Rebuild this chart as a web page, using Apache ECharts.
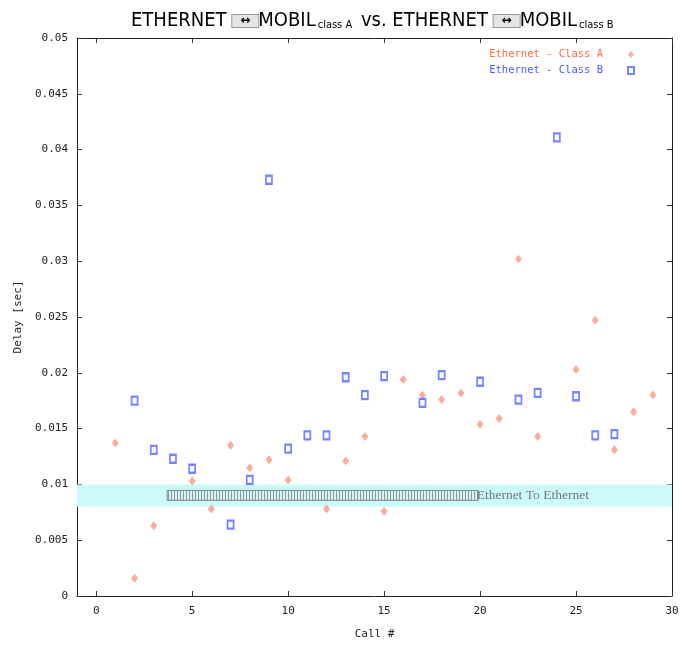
<!DOCTYPE html>
<html>
<head>
<meta charset="utf-8">
<script src="https://cdn.jsdelivr.net/npm/echarts@6/dist/echarts.min.js"></script>
<style>
html, body { margin: 0; padding: 0; background: #fff; }
#main { width: 690px; height: 645px; }
</style>
</head>
<body>
<div id="main"></div>
<script>
// data
var callA  = [1, 2, 3, 5, 6, 7, 8, 9, 10, 12, 13, 14, 15, 16, 17, 18, 19, 20, 21, 22, 23, 25, 26, 27, 28, 29];
var delayA = [0.0137, 0.0016, 0.0063, 0.0103, 0.0078, 0.0135, 0.0115, 0.0122, 0.0104, 0.0078, 0.0121, 0.0143, 0.0076,
              0.0194, 0.0180, 0.0176, 0.0182, 0.0154, 0.0159, 0.0302, 0.0143, 0.0203, 0.0247, 0.0131, 0.0165, 0.0180];
var callB  = [2, 3, 4, 5, 7, 8, 9, 10, 11, 12, 13, 14, 15, 17, 18, 20, 22, 23, 24, 25, 26, 27];
var delayB = [0.0175, 0.0131, 0.0123, 0.0114, 0.0064, 0.0104, 0.0373, 0.0132, 0.0144, 0.0144, 0.0196, 0.0180, 0.0197,
              0.0173, 0.0198, 0.0192, 0.0176, 0.0182, 0.0411, 0.0179, 0.0144, 0.0145];
var xTicks = [0, 5, 10, 15, 20, 25, 30];
var bandLow = 0.008, bandHigh = 0.01;
var hatch = [[3.7, 0.00857], [19.9, 0.00946]];
var bandText = 'Ethernet To Ethernet';

function pairs(xs, ys) {
	var out = [];
	for (var i = 0; i < xs.length; i++) out.push([xs[i], ys[i]]);
	return out;
}

// vertical hatch pattern
var pat = document.createElement('canvas');
pat.width = 3; pat.height = 10;
var pc = pat.getContext('2d');
pc.fillStyle = '#d8f4f4'; pc.fillRect(0, 0, 3, 10);
pc.fillStyle = '#8a9a9a'; pc.fillRect(0, 0, 1, 10);

var mono = 'DejaVu Sans Mono';
var narrow = 'Liberation Sans Narrow, DejaVu Sans Condensed';
var myChart = echarts.init(document.getElementById('main'));

var option = {
	backgroundColor: '#fff',
	animation: false,
	title: {
		left: 126, top: 6,
		text: '{t|ETHERNET }{a|↔}{t|MOBIL}{s|class A}{t| vs. ETHERNET }{a|↔}{t|MOBIL}{s|class B}',
		textStyle: {
			rich: {
				t: { fontFamily: narrow, fontWeight: 'normal', fontSize: 20, color: '#000' },
				a: { fontFamily: 'DejaVu Sans', fontWeight: 'bold', fontSize: 12, color: '#000', backgroundColor: '#e4e4e4', borderColor: '#999', borderWidth: 1, padding: [0, 8] },
				s: { fontFamily: narrow, fontWeight: 'normal', fontSize: 11, color: '#000', verticalAlign: 'bottom', padding: [8, 3, 0, 2] }
			}
		}
	},
	legend: {
		right: 50, top: 44, orient: 'vertical', align: 'right', itemGap: 5,
		itemWidth: 6, itemHeight: 7,
		textStyle: { fontFamily: mono, fontSize: 10.5, padding: [0, 20, 0, 0] },
		data: [
			{ name: 'Ethernet - Class A', textStyle: { color: '#ff6a4a' } },
			{ name: 'Ethernet - Class B', textStyle: { color: '#4a5aff' } }
		]
	},
	grid: { left: 77, right: 18, top: 38, bottom: 47 },
	xAxis: [{
		type: 'value', min: -1, max: 30,
		name: 'Call #', nameLocation: 'middle', nameGap: 33,
		nameTextStyle: { fontFamily: mono, fontSize: 11, color: '#222' },
		axisLine: { onZero: false, lineStyle: { color: '#222' } },
		axisTick: { inside: true, length: 5, customValues: xTicks, lineStyle: { color: '#333' } },
		axisLabel: { customValues: xTicks, fontFamily: mono, fontSize: 11, color: '#222', margin: 10 },
		splitLine: { show: false }
	}, {
		type: 'value', min: -1, max: 30, position: 'top',
		axisLine: { onZero: false, lineStyle: { color: '#222' } },
		axisTick: { inside: true, length: 5, customValues: xTicks, lineStyle: { color: '#333' } },
		axisLabel: { show: false }, splitLine: { show: false }
	}],
	yAxis: [{
		type: 'value', min: 0, max: 0.05, interval: 0.005,
		name: 'Delay [sec]', nameLocation: 'middle', nameGap: 52,
		nameTextStyle: { fontFamily: mono, fontSize: 11, color: '#222' },
		axisLine: { show: true, onZero: false, lineStyle: { color: '#222' } },
		axisTick: { inside: true, length: 5, lineStyle: { color: '#333' } },
		axisLabel: { fontFamily: mono, fontSize: 11, color: '#222', margin: 9 },
		splitLine: { show: false }
	}, {
		type: 'value', min: 0, max: 0.05, interval: 0.005, position: 'right',
		axisLine: { show: true, onZero: false, lineStyle: { color: '#222' } },
		axisTick: { inside: true, length: 5, lineStyle: { color: '#333' } },
		axisLabel: { show: false }, splitLine: { show: false }
	}],
	series: [
		{
			name: 'Ethernet - Class A', type: 'scatter',
			symbol: 'diamond', symbolSize: [7, 9],
			itemStyle: { color: '#f7998a' },
			data: pairs(callA, delayA),
			z: 5,
			markArea: {
				silent: true,
				data: [
					[{ yAxis: bandLow, itemStyle: { color: '#ccfafa' } }, { yAxis: bandHigh }],
					[{
						coord: hatch[0],
						itemStyle: { color: { image: pat, repeat: 'repeat' }, borderColor: '#7a8a8a', borderWidth: 1 },
						label: {
							show: true, position: 'right', distance: -2,
							formatter: bandText,
							fontFamily: 'Liberation Serif', fontSize: 13.5, color: '#777'
						}
					}, { coord: hatch[1] }]
				]
			}
		},
		{
			name: 'Ethernet - Class B', type: 'scatter',
			symbol: 'emptyRect', symbolSize: [6, 8],
			itemStyle: { color: '#5565ff', borderWidth: 1.5 },
			data: pairs(callB, delayB),
			z: 6
		}
	]
};

myChart.setOption(option);
</script>
</body>
</html>
